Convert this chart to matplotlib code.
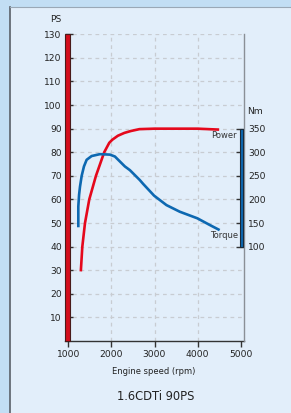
import matplotlib
matplotlib.use("Agg")
import matplotlib.pyplot as plt
from matplotlib.patches import Rectangle

# ---- data ----
power_rpm = [1290, 1325, 1387, 1486, 1641, 1833, 1950, 2020, 2150, 2300, 2450, 2650, 3000, 3500, 4000, 4500]
power_ps = [29.5, 40, 50, 60, 70, 80, 84, 85.3, 87, 88.2, 89, 89.8, 90, 90, 90, 89.6]

torque_rpm = [1232, 1232, 1250, 1271, 1310, 1363, 1425, 1541, 1734, 1965, 2081, 2312, 2430, 2660, 2736,
              2991, 3278, 3586, 3995, 4280, 4512]
torque_nm = [141, 185, 210, 227, 250, 270, 284, 292, 296, 295, 291, 270, 262, 241, 233,
             208, 188, 174, 160, 146, 135]

x_ticks = [1000, 2000, 3000, 4000, 5000]
ps_ticks = [10, 20, 30, 40, 50, 60, 70, 80, 90, 100, 110, 120, 130]
nm_ticks = [100, 150, 200, 250, 300, 350]

title = "1.6CDTi 90PS"
xlabel = "Engine speed (rpm)"

RED = "#e5081c"
BLUE = "#0d68b1"
TXT = "#222222"

W, H = 291, 413
fig = plt.figure(figsize=(W / 100, H / 100), dpi=100)
fig.patch.set_facecolor("#c2def4")

# inner panel
panel = Rectangle((9.5 / W, 0), 1 - 9.5 / W, (H - 7) / H, transform=fig.transFigure,
                  facecolor="#e2eefa", edgecolor="none", zorder=-10)
fig.add_artist(panel)
fig.add_artist(plt.Line2D([9.5 / W, 9.5 / W], [0, (H - 7) / H], transform=fig.transFigure,
                          color="#5a6068", lw=1.2, zorder=-9))
fig.add_artist(plt.Line2D([9.5 / W, 1], [(H - 7) / H, (H - 7) / H], transform=fig.transFigure,
                          color="#9aa8b6", lw=0.8, zorder=-9))

left, right = 65.3 / W, 243.7 / W
bottom, top = (H - 341) / H, (H - 34.3) / H
ax = fig.add_axes([left, bottom, right - left, top - bottom])
ax.set_facecolor("none")
ax.set_xlim(930, 5070)
ax.set_ylim(0, 130)

ax2 = ax.twinx()
ax2.set_ylim(-100, 550)
ax2.set_facecolor("none")

# grid
for y in ps_ticks:
    ax.axhline(y, color="#c8ccd2", lw=0.9, ls=(0, (3, 3)), zorder=1)
for x in x_ticks[1:-1]:
    ax.axvline(x, color="#c8ccd2", lw=0.9, ls=(0, (3, 3)), zorder=1)

# spines
ax.spines["top"].set_visible(False)
ax2.spines["top"].set_visible(False)
ax.spines["left"].set_visible(False)
ax2.spines["left"].set_visible(False)
ax.spines["right"].set_visible(False)
ax2.spines["right"].set_color("#8a8f96")
ax2.spines["right"].set_linewidth(1.0)
ax.spines["bottom"].set_color("#333333")
ax.spines["bottom"].set_linewidth(1.0)
ax2.spines["bottom"].set_visible(False)

# red bar on left (PS axis)
pw = 1 / (ax.get_position().width * W)  # axes fraction per pixel
ax.add_patch(Rectangle((0, 0), 5 * pw, 130, transform=ax.get_yaxis_transform(),
                       facecolor="#d40d1c", edgecolor="#4a1a1a", lw=0.8, zorder=5, clip_on=False))
# blue bar on right (Nm axis)
ax2.add_patch(Rectangle((1 - 3.6 * pw, 100), 3.4 * pw, 250, transform=ax2.get_yaxis_transform(),
                        facecolor="#0d68b1", edgecolor="#1a2a3a", lw=0.8, zorder=5, clip_on=False))

# curves
ax.plot(power_rpm, power_ps, color=RED, lw=1.9, solid_capstyle="butt", zorder=4)
ax2.plot(torque_rpm, torque_nm, color=BLUE, lw=1.9, solid_capstyle="butt", zorder=4)

# ticks
ax.set_xticks(x_ticks)
ax.set_xticklabels([str(v) for v in x_ticks])
ax.set_yticks(ps_ticks)
ax.set_yticklabels([str(v) for v in ps_ticks])
ax.tick_params(axis="x", direction="out", length=4.5, width=1, color="#333333",
               labelsize=6.6, labelcolor=TXT, pad=2)
ax.tick_params(axis="y", direction="in", length=6, width=1, color="#333333",
               labelsize=6.6, labelcolor=TXT, pad=2.5)
ax2.set_yticks(nm_ticks)
ax2.set_yticklabels([str(v) for v in nm_ticks])
ax2.tick_params(axis="y", direction="in", length=6, width=1, color="#333333",
                labelsize=6.6, labelcolor=TXT, pad=3)

# texts
def px(x, y):
    return x / W, 1 - y / H

fig.text(*px(56, 19), "PS", ha="center", va="center", fontsize=6.6, color=TXT)
fig.text(*px(255, 112), "Nm", ha="center", va="center", fontsize=6.6, color=TXT)
fig.text(*px(224, 136), "Power", ha="center", va="center", fontsize=6, color="#333333")
fig.text(*px(224.5, 236), "Torque", ha="center", va="center", fontsize=6, color="#333333")
fig.text(*px(154, 371), xlabel, ha="center", va="center", fontsize=6, color=TXT)
fig.text(*px(155.5, 396), title, ha="center", va="center", fontsize=8.3, color=TXT)

fig.savefig("out.png", dpi=100, facecolor=fig.get_facecolor())
